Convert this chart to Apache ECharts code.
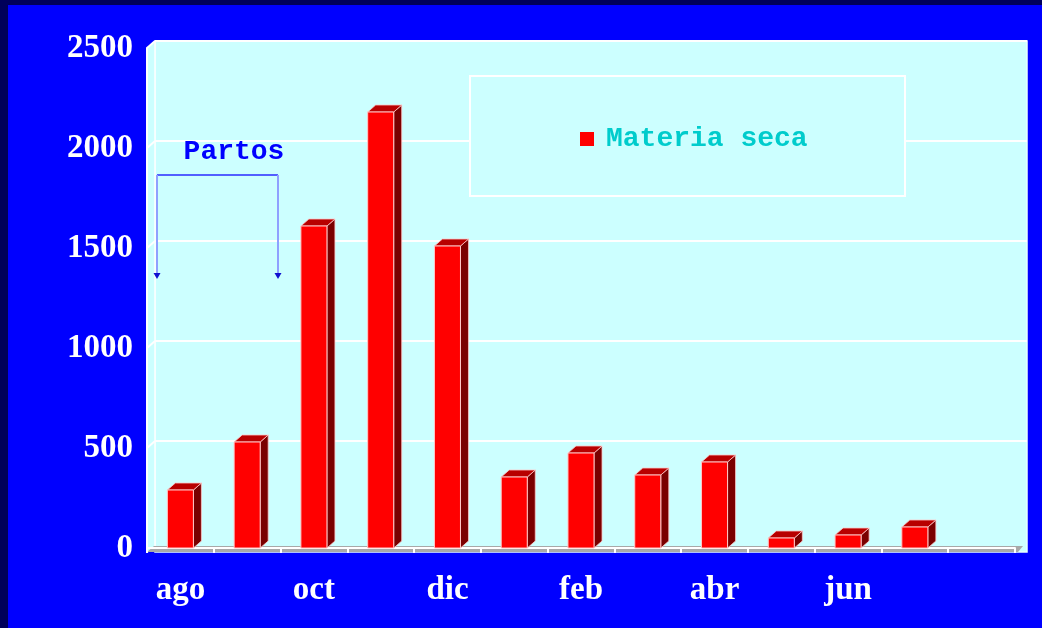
<!DOCTYPE html>
<html>
<head>
<meta charset="utf-8">
<style>
  html, body { margin: 0; padding: 0; background: #0000ff; }
  #chart { width: 1042px; height: 628px; }
</style>
<script src="https://cdn.jsdelivr.net/npm/echarts@6/dist/echarts.min.js"></script>
</head>
<body>
<div id="chart"></div>
<script>
// Monthly dry-matter values (Materia seca), August through July
const months = ['ago', 'sep', 'oct', 'nov', 'dic', 'ene', 'feb', 'mar', 'abr', 'may', 'jun', 'jul', ''];
const materiaSeca = [290, 530, 1610, 2180, 1510, 355, 475, 365, 430, 50, 65, 105, null];
const yTicks = [0, 500, 1000, 1500, 2000, 2500];
const seriesName = 'Materia seca';
const noteText = 'Partos';

// Frame geometry (front plane of the pseudo-3D box)
const G = { left: 147, right: 27, top: 48, bottom: 80 };
const DX = 8, DY = 7;          // depth offset of the box
const W = 1042, H = 628;
const front = { x0: G.left, x1: W - G.right, y0: G.top, y1: H - G.bottom };
const back = { x0: front.x0 + DX, x1: front.x1 + 12, y0: front.y0 - DY, y1: front.y1 - DY };
const yScale = (front.y1 - front.y0) / (yTicks[yTicks.length - 1] - yTicks[0]);

const CYAN = '#ccffff';
const chart = echarts.init(document.getElementById('chart'));

function renderBar3D(params, api) {
  const v = api.value(1);
  if (v == null) return;
  const top = api.coord([api.value(0), v]);
  const base = api.coord([api.value(0), 0]);
  const bw = api.size([1, 0])[0] * 0.39;
  const xl = top[0] - bw / 2, xr = top[0] + bw / 2;
  const yt = top[1], yb = base[1];
  const edge = '#ffc8c8';
  return {
    type: 'group',
    children: [
      { type: 'polygon', shape: { points: [[xr, yt], [xr + DX, yt - DY], [xr + DX, yb - DY], [xr, yb]] },
        style: { fill: '#7a0000', stroke: edge, lineWidth: 0.8 } },
      { type: 'polygon', shape: { points: [[xl, yt], [xl + DX, yt - DY], [xr + DX, yt - DY], [xr, yt]] },
        style: { fill: '#b80000', stroke: edge, lineWidth: 0.8 } },
      { type: 'rect', shape: { x: xl, y: yt, width: bw, height: yb - yt },
        style: { fill: '#ff0000', stroke: edge, lineWidth: 1 } }
    ]
  };
}

// Box walls, floor and slanted grid segments on the left wall
const wallGraphics = [
  { type: 'rect', z: -20, shape: { x: 0, y: 0, width: W, height: 5 }, style: { fill: '#00005a' } },
  { type: 'rect', z: -20, shape: { x: 0, y: 0, width: 8, height: H }, style: { fill: '#00005a' } },
  { type: 'rect', z: -10, shape: { x: back.x0, y: back.y0, width: back.x1 - back.x0, height: front.y1 + 4 - back.y0 },
    style: { fill: CYAN, stroke: '#e6ffff', lineWidth: 1.5 } },
  { type: 'polygon', z: -10, shape: { points: [[front.x0, front.y0], [back.x0, back.y0], [back.x0, front.y1], [front.x0, front.y1 + 5]] },
    style: { fill: CYAN } },
  { type: 'line', z: -9, shape: { x1: back.x0, y1: back.y0, x2: back.x0, y2: front.y1 - 2 },
    style: { stroke: '#ffffff', lineWidth: 1.5 } },
  { type: 'polygon', z: -8, shape: { points: [[front.x0, front.y1 + 4], [back.x0 - 1, front.y1 - 2], [back.x1 - 4, front.y1 - 2], [front.x1 + 3, front.y1 + 4]] },
    style: { fill: '#a8a8a8' } }
];
yTicks.slice(1).forEach(function (t) {
  const yf = front.y1 - t * yScale;
  wallGraphics.push({ type: 'line', z: -9,
    shape: { x1: front.x0, y1: yf, x2: back.x0, y2: yf - DY },
    style: { stroke: '#ffffff', lineWidth: 2 } });
});

// Legend frame
wallGraphics.push({ type: 'rect', z: 5, shape: { x: 470, y: 76, width: 435, height: 120 },
  style: { fill: CYAN, stroke: '#ffffff', lineWidth: 2 } });

// "Partos" bracket annotation
const noteCol = '#0000ff';
const bx0 = 157, bx1 = 278, by = 175, byEnd = 279;
wallGraphics.push(
  { type: 'text', z: 6, style: { text: noteText, x: 234, y: 152, align: 'center', verticalAlign: 'middle',
      font: 'bold 28px "Liberation Mono", monospace', fill: noteCol } },
  { type: 'line', z: 6, shape: { x1: bx0, y1: by, x2: bx1, y2: by }, style: { stroke: '#2a2aff', lineWidth: 1.5 } },
  { type: 'line', z: 6, shape: { x1: bx0, y1: by, x2: bx0, y2: byEnd - 4 }, style: { stroke: '#8fa0ff', lineWidth: 2 } },
  { type: 'line', z: 6, shape: { x1: bx1, y1: by, x2: bx1, y2: byEnd - 4 }, style: { stroke: '#8fa0ff', lineWidth: 2 } },
  { type: 'polygon', z: 6, shape: { points: [[bx0 - 3.5, byEnd - 6], [bx0 + 3.5, byEnd - 6], [bx0, byEnd]] }, style: { fill: '#1010d0' } },
  { type: 'polygon', z: 6, shape: { points: [[bx1 - 3.5, byEnd - 6], [bx1 + 3.5, byEnd - 6], [bx1, byEnd]] }, style: { fill: '#1010d0' } }
);

const labelFont = { color: '#ffffff', fontFamily: '"Liberation Serif", "Times New Roman", serif', fontWeight: 'bold', fontSize: 33 };

chart.setOption({
  backgroundColor: '#0000ff',
  animation: false,
  graphic: { elements: wallGraphics },
  grid: [
    { left: G.left, right: G.right, top: G.top, bottom: G.bottom },
    { left: back.x0, right: W - back.x1, top: back.y0, bottom: H - back.y1 }
  ],
  legend: {
    data: [seriesName],
    icon: 'rect',
    itemWidth: 14,
    itemHeight: 14,
    left: 575,
    top: 120,
    z: 7,
    textStyle: { color: '#00cccc', fontFamily: '"Liberation Mono", monospace', fontWeight: 'bold', fontSize: 28, padding: [0, 0, 0, 7] }
  },
  xAxis: [
    {
      type: 'category', data: months, gridIndex: 0, offset: 4,
      axisLine: { lineStyle: { color: '#ffffff', width: 2 } },
      axisTick: { show: true, length: 5, interval: 0, lineStyle: { color: '#ffffff', width: 2 } },
      axisLabel: Object.assign({ interval: 1, margin: 22 }, labelFont),
      splitLine: { show: false }
    },
    { type: 'value', gridIndex: 1, show: false, min: 0, max: 1 }
  ],
  yAxis: [
    {
      type: 'value', gridIndex: 0, min: yTicks[0], max: yTicks[yTicks.length - 1], interval: 500,
      axisLine: { show: true, lineStyle: { color: '#ffffff', width: 2 } },
      axisTick: { show: false },
      axisLabel: Object.assign({ margin: 14, formatter: function (v) { return String(v); } }, labelFont),
      splitLine: { show: false }
    },
    {
      type: 'value', gridIndex: 1, min: yTicks[0], max: yTicks[yTicks.length - 1], interval: 500,
      axisLine: { show: false }, axisTick: { show: false }, axisLabel: { show: false },
      splitLine: { show: true, showMinLine: false, lineStyle: { color: '#ffffff', width: 2 } }
    }
  ],
  series: [{
    name: seriesName,
    type: 'custom',
    xAxisIndex: 0,
    yAxisIndex: 0,
    itemStyle: { color: '#ff0000' },
    renderItem: renderBar3D,
    data: materiaSeca.map(function (v, i) { return [i, v]; }),
    z: 3
  }]
});
</script>
</body>
</html>
